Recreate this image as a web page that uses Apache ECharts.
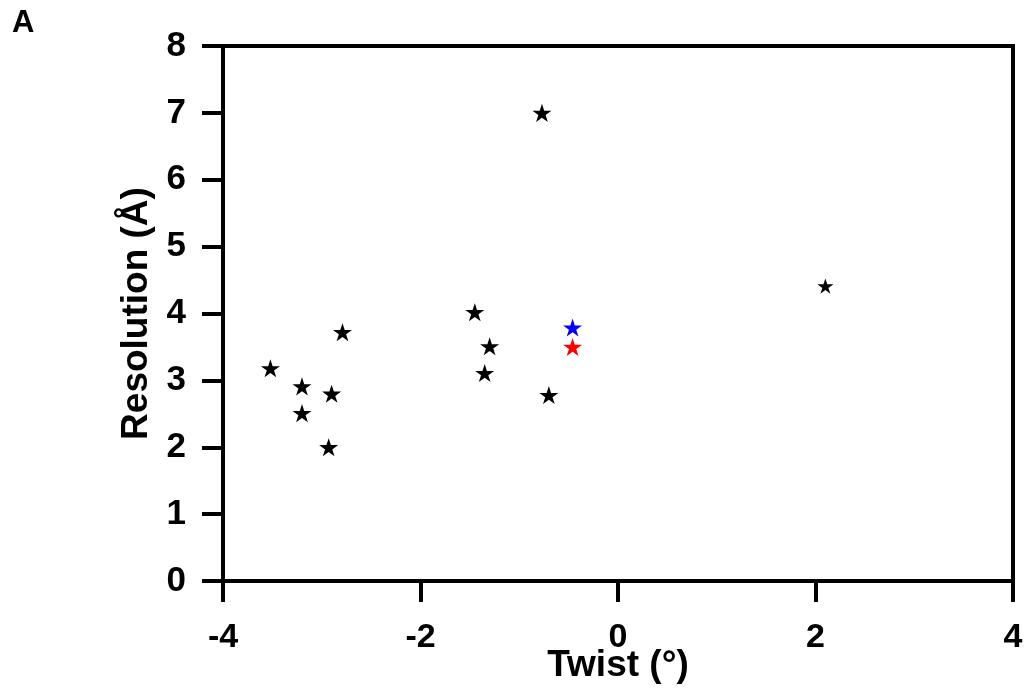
<!DOCTYPE html>
<html>
<head>
<meta charset="utf-8">
<script src="https://cdn.jsdelivr.net/npm/echarts@6/dist/echarts.min.js"></script>
<style>
html,body{margin:0;padding:0;background:#fff;}
#chart{width:1029px;height:689px;}
</style>
</head>
<body>
<div id="chart"></div>
<script>
// Data
const blackTwist = [-0.77, -1.45, -1.30, -1.35, -0.70, -2.79, -3.52, -3.20, -3.20, -2.90, -2.93];
const blackRes   = [7.00,  4.02,  3.51,  3.11,  2.78,  3.72,  3.18,  2.91,  2.51,  2.80,  2.00];
const smallTwist = [2.10];
const smallRes   = [4.41];
const blueTwist = [-0.46];
const blueRes   = [3.79];
const redTwist  = [-0.46];
const redRes    = [3.50];
const xTicks = [-4, -2, 0, 2, 4];
const yTicks = [0, 1, 2, 3, 4, 5, 6, 7, 8];

const STAR = 'path://M100 0 L122.45 69.1 L195.11 69.1 L136.33 111.8 L158.78 180.9 L100 138.2 L41.22 180.9 L63.67 111.8 L4.89 69.1 L77.55 69.1 Z';
const pairs = (xs, ys) => xs.map((x, i) => [x, ys[i]]);
const FONT = 'Liberation Sans';

const chart = echarts.init(document.getElementById('chart'), null, {renderer: 'canvas'});
chart.setOption({
  animation: false,
  backgroundColor: '#fff',
  graphic: [{
    type: 'text', left: 12, top: 8,
    style: {text: 'A', fontFamily: FONT, fontWeight: 'bold', fontSize: 31, fill: '#000'}
  }],
  grid: {
    left: 223, right: 16, top: 46, bottom: 108,
    containLabel: false, outerBoundsMode: 'none',
    show: true, borderColor: '#000', borderWidth: 4, backgroundColor: 'transparent'
  },
  xAxis: {
    type: 'value', min: xTicks[0], max: xTicks[xTicks.length - 1], interval: 2,
    name: 'Twist (°)', nameLocation: 'middle', nameGap: 66, nameMoveOverlap: false,
    nameTextStyle: {fontFamily: FONT, fontWeight: 'bold', fontSize: 37, color: '#000'},
    axisLine: {show: true, onZero: false, lineStyle: {color: '#000', width: 4}},
    axisTick: {show: true, length: 21, lineStyle: {color: '#000', width: 4}},
    axisLabel: {margin: 40, fontFamily: FONT, fontWeight: 'bold', fontSize: 34, color: '#000'},
    splitLine: {show: false}
  },
  yAxis: {
    type: 'value', min: yTicks[0], max: yTicks[yTicks.length - 1], interval: 1,
    name: 'Resolution (Å)', nameLocation: 'middle', nameGap: 66,
    nameTextStyle: {fontFamily: FONT, fontWeight: 'bold', fontSize: 37, color: '#000'},
    axisLine: {show: true, onZero: false, lineStyle: {color: '#000', width: 4}},
    axisTick: {show: true, length: 21, lineStyle: {color: '#000', width: 4}},
    axisLabel: {margin: 37, fontFamily: FONT, fontWeight: 'bold', fontSize: 35, color: '#000'},
    splitLine: {show: false}
  },
  series: [
    {type: 'scatter', name: 'others', data: pairs(blackTwist, blackRes),
     symbol: STAR, symbolSize: 19, symbolKeepAspect: true, itemStyle: {color: '#000', opacity: 1}},
    {type: 'scatter', name: 'other small', data: pairs(smallTwist, smallRes),
     symbol: STAR, symbolSize: 16, symbolKeepAspect: true, itemStyle: {color: '#000', opacity: 1}},
    {type: 'scatter', name: 'blue', data: pairs(blueTwist, blueRes),
     symbol: STAR, symbolSize: 19, symbolKeepAspect: true, itemStyle: {color: '#0000ff', opacity: 1}},
    {type: 'scatter', name: 'red', data: pairs(redTwist, redRes),
     symbol: STAR, symbolSize: 19, symbolKeepAspect: true, itemStyle: {color: '#ff0000', opacity: 1}}
  ]
});
</script>
</body>
</html>
